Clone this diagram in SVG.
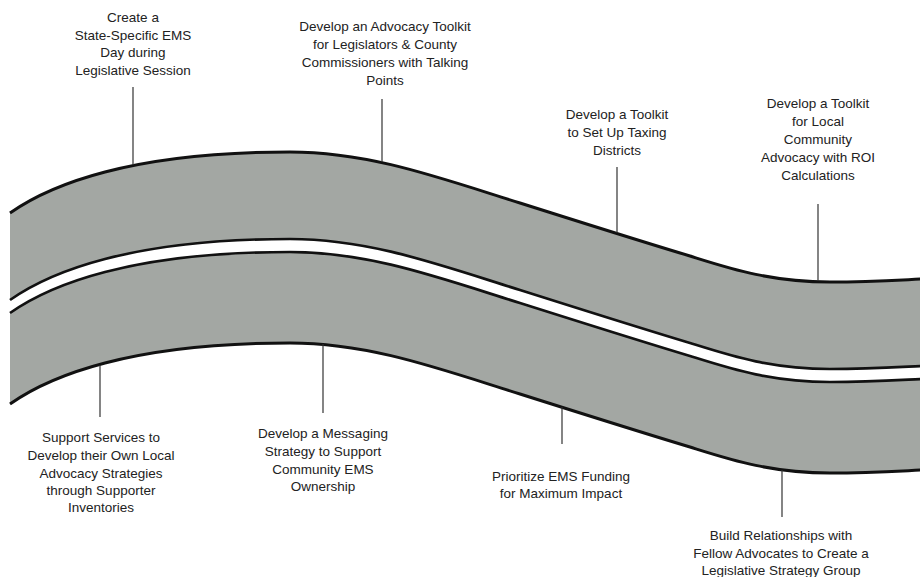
<svg xmlns="http://www.w3.org/2000/svg" xmlns:xlink="http://www.w3.org/1999/xlink" width="920" height="577" viewBox="0 0 920 577">
<style>
.lane{fill:#a3a7a3;stroke:none}
.outer{fill:none;stroke:#111;stroke-width:3}
.inner{fill:none;stroke:#111;stroke-width:2.7}
.conn{stroke:#333;stroke-width:1.2;fill:none}
.lbl{font-family:"Liberation Sans",Arial,sans-serif;font-size:13.5px;fill:#222;text-anchor:middle}
</style>
<defs>
<path id="edge" d="M10,213 C50,185 130,152 290,152 C370,152 440,178 520,203 C580,222 640,241 690,256 C730,268.5 770,282 830,282 C870,282 900,280 922,279"/>
</defs>
<rect width="920" height="577" fill="#fff"/>
<g id="road">
<path class="lane" d="M10,213 C50,185 130,152 290,152 C370,152 440,178 520,203 C580,222 640,241 690,256 C730,268.5 770,282 830,282 C870,282 900,280 922,279 L922,366 C900,367 870,369 830,369 C770,369 730,355.5 690,343 C640,328 580,309 520,290 C440,265 370,239 290,239 C130,239 50,272 10,300 Z"/>
<path class="lane" d="M10,313 C50,285 130,252 290,252 C370,252 440,278 520,303 C580,322 640,341 690,356 C730,368.5 770,382 830,382 C870,382 900,380 922,379 L922,470 C900,471 870,473 830,473 C770,473 730,459.5 690,447 C640,432 580,413 520,394 C440,369 370,343 290,343 C130,343 50,376 10,404 Z"/>
<use xlink:href="#edge" href="#edge" class="outer"/>
<use xlink:href="#edge" href="#edge" class="inner" y="87"/>
<use xlink:href="#edge" href="#edge" class="inner" y="100"/>
<use xlink:href="#edge" href="#edge" class="outer" y="191"/>
</g>
<g id="connectors">
<line class="conn" x1="133" y1="87" x2="133" y2="165"/>
<line class="conn" x1="382" y1="99" x2="382" y2="162"/>
<line class="conn" x1="617" y1="167" x2="617" y2="233"/>
<line class="conn" x1="818" y1="204" x2="818" y2="281"/>
<line class="conn" x1="100" y1="365" x2="100" y2="417"/>
<line class="conn" x1="323" y1="344" x2="323" y2="413"/>
<line class="conn" x1="562" y1="407" x2="562" y2="444"/>
<line class="conn" x1="782" y1="470" x2="782" y2="517"/>
</g>
<g id="n1"><text class="lbl"><tspan x="133" y="22">Create a</tspan><tspan x="133" y="39.5">State-Specific EMS</tspan><tspan x="133" y="57">Day during</tspan><tspan x="133" y="74.5">Legislative Session</tspan></text></g>
<g id="n2"><text class="lbl"><tspan x="385" y="30.5">Develop an Advocacy Toolkit</tspan><tspan x="385" y="48.5">for Legislators &amp; County</tspan><tspan x="385" y="66.5">Commissioners with Talking</tspan><tspan x="385" y="84.5">Points</tspan></text></g>
<g id="n3"><text class="lbl"><tspan x="617" y="119">Develop a Toolkit</tspan><tspan x="617" y="137">to Set Up Taxing</tspan><tspan x="617" y="155">Districts</tspan></text></g>
<g id="n4"><text class="lbl"><tspan x="818" y="108">Develop a Toolkit</tspan><tspan x="818" y="126">for Local</tspan><tspan x="818" y="144">Community</tspan><tspan x="818" y="162">Advocacy with ROI</tspan><tspan x="818" y="180">Calculations</tspan></text></g>
<g id="n5"><text class="lbl"><tspan x="101" y="442">Support Services to</tspan><tspan x="101" y="460">Develop their Own Local</tspan><tspan x="101" y="477.5">Advocacy Strategies</tspan><tspan x="101" y="495">through Supporter</tspan><tspan x="101" y="512">Inventories</tspan></text></g>
<g id="n6"><text class="lbl"><tspan x="323" y="438">Develop a Messaging</tspan><tspan x="323" y="456">Strategy to Support</tspan><tspan x="323" y="474">Community EMS</tspan><tspan x="323" y="491">Ownership</tspan></text></g>
<g id="n7"><text class="lbl"><tspan x="561" y="481">Prioritize EMS Funding</tspan><tspan x="561" y="498">for Maximum Impact</tspan></text></g>
<g id="n8"><text class="lbl"><tspan x="781" y="540">Build Relationships with</tspan><tspan x="781" y="557.5">Fellow Advocates to Create a</tspan><tspan x="781" y="575">Legislative Strategy Group</tspan></text></g>
</svg>
